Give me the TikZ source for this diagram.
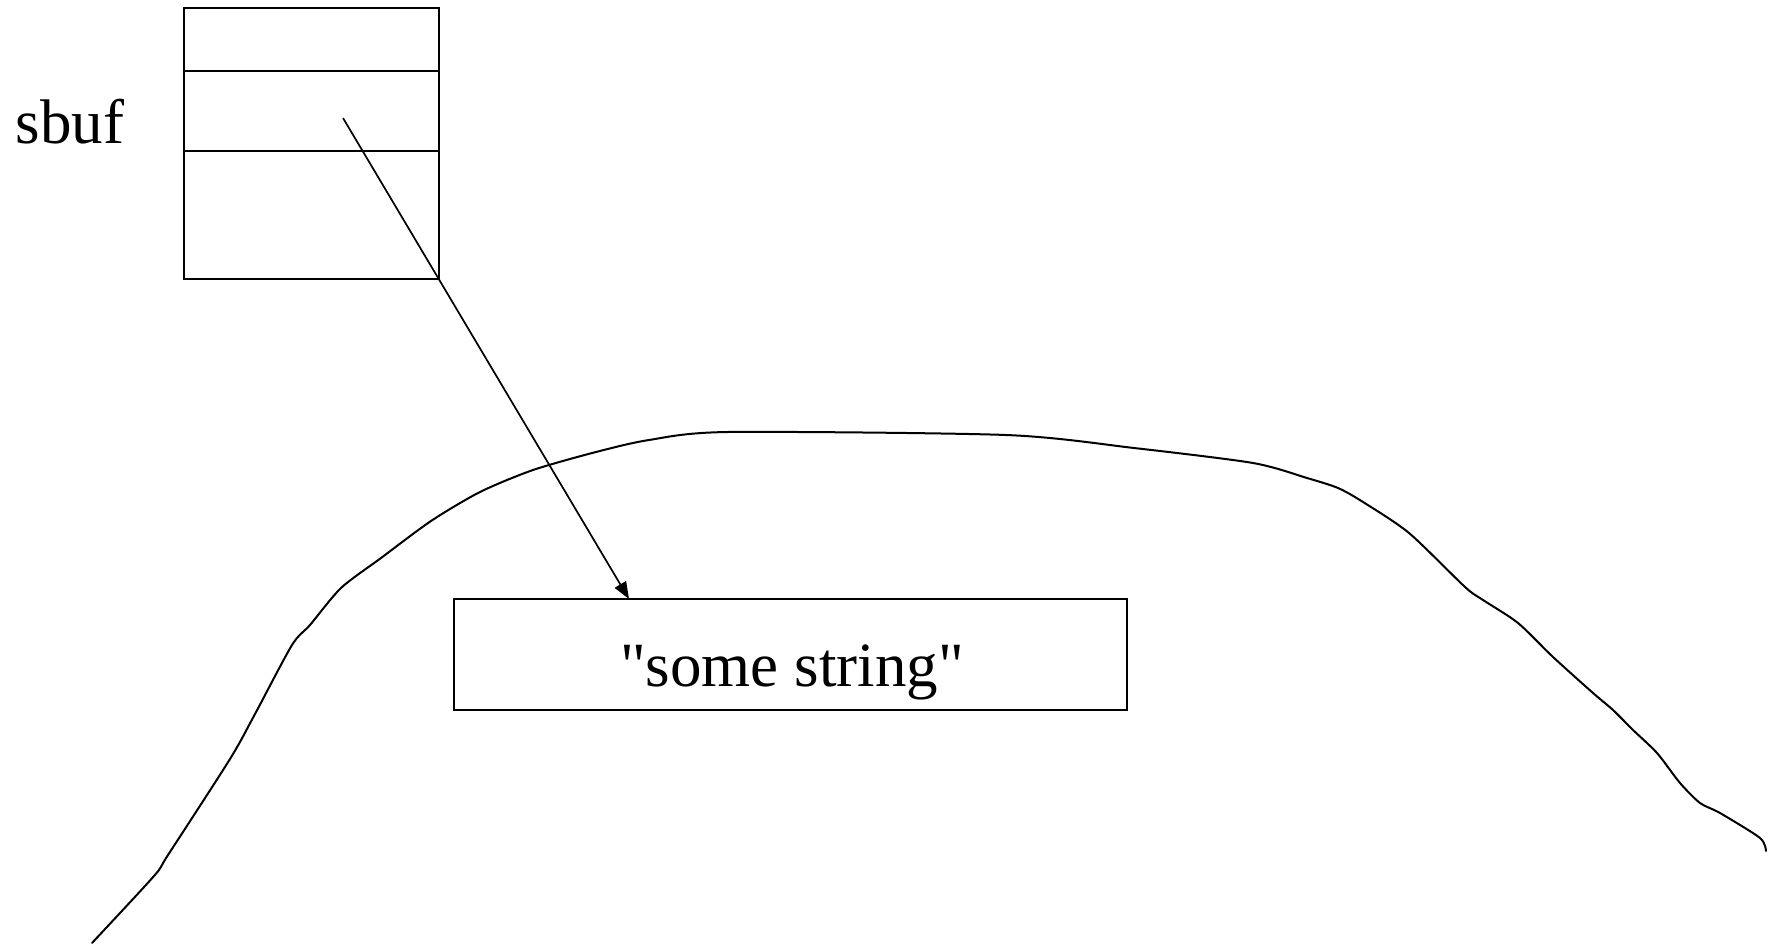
\documentclass[tikz,border=0pt]{standalone}
\usepackage{fontspec}
\setmainfont{Liberation Serif}[Ligatures=TeXOff]
\usetikzlibrary{arrows.meta}
\begin{document}
\begin{tikzpicture}[x=1pt,y=-1pt,
  cell/.style={draw,line width=2pt,minimum width=255pt,inner sep=0pt,anchor=north west},
  lbl/.style={font=\fontsize{63}{70}\selectfont,inner sep=0pt,anchor=base},
  strbox/.style={draw,line width=2pt,minimum width=673pt,minimum height=111pt,inner sep=0pt},
  ptr/.style={line width=1.7pt,-{Triangle[length=17pt,width=13pt]}},
  curve/.style={line width=2pt,line join=round,line cap=round}]
\useasboundingbox (0,0) rectangle (1771,947);
% sbuf structure
\node[cell,minimum height=63pt] (c1) at (183,7) {};
\node[cell,minimum height=80pt] (c2) at (183,70) {};
\node[cell,minimum height=128pt] (c3) at (183,150) {};
\node[lbl] (sbuf) at (70,143) {sbuf};
% string box
\node[strbox] (str) at (790.5,654.5) {};
\node[lbl] (strtxt) at (792,686) {\symbol{34}some string\symbol{34}};
% pointer
\coordinate (p0) at (343,118);
\coordinate (tip) at (629,599);
\draw[ptr] (p0) -- (tip);
% free-hand outline
\draw[curve] plot[smooth,tension=0.45] coordinates {
 (92,943) (154,876) (168,855) (230,759) (255,714) (292,645) (310,625)
 (341,588) (381,558) (431,521) (480,492) (533,470) (596,452) (649,440)
 (728,432) (1006,435) (1134,448) (1253,463) (1307,478) (1338,488)
 (1363,502) (1409,533) (1465,587) (1483,600) (1518,623) (1553,657)
 (1593,693) (1613,710) (1633,730) (1657,753) (1680,783) (1700,803)
 (1720,813) (1760,838) (1766,851)};
\end{tikzpicture}
\end{document}
